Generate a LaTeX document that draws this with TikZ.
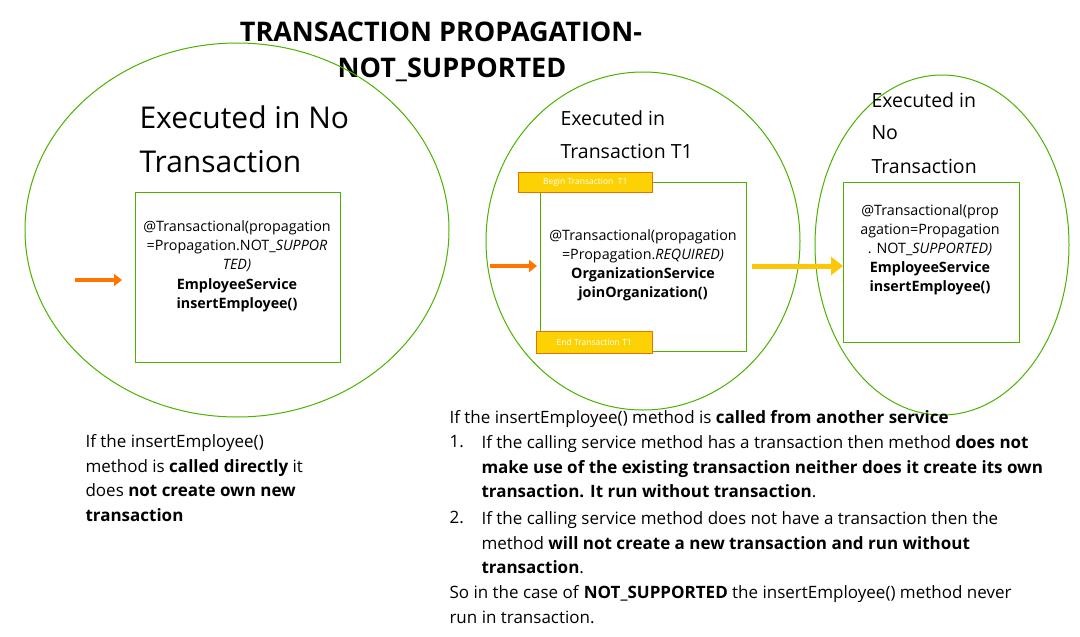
\documentclass[tikz,border=0pt]{standalone}
\usepackage{fontspec}
\setmainfont{Open Sans}
\tikzset{
 bx/.style={draw=green!50!black!60!lime, line width=1pt},
 tag/.style={draw=orange!90!black, fill=yellow!70!orange, text=white, font=\fontsize{8.5}{10}\selectfont, inner sep=2pt},
 oarr/.style={draw=orange!80!red!90!yellow, line width=3.5pt, -{Triangle[length=8pt,width=12pt]}},
 txt/.style={anchor=north west, align=left, font=\fontsize{17}{24.5}\selectfont},
 btxt/.style={align=center, font=\fontsize{14.3}{19}\selectfont},
}
\usetikzlibrary{arrows.meta,shapes.geometric}
\begin{document}
\begin{tikzpicture}[x=1pt,y=-1pt]
\useasboundingbox (0,0) rectangle (1080,637);
\fill[white] (0,0) rectangle (1080,637);
\node[font=\bfseries\fontsize{27}{30}\selectfont] (t1) at (441,32) {TRANSACTION PROPAGATION-};
\node[font=\bfseries\fontsize{27}{30}\selectfont] (t2) at (452,70) {NOT\_SUPPORTED};
% ellipses
\draw[green!50!black!60!lime, line width=1pt] (237,230) ellipse (212 and 187);
\draw[green!50!black!60!lime, line width=1pt] (643,241) ellipse (157 and 169);
\draw[green!50!black!60!lime, line width=1pt] (942,245) ellipse (127 and 170);
% headings
\node[anchor=west, font=\fontsize{30}{32}\selectfont] (h1a) at (136,117) {Executed in No};
\node[anchor=west, font=\fontsize{30}{32}\selectfont] (h1b) at (136,162) {Transaction};
\node[anchor=west, font=\fontsize{19.5}{24}\selectfont] (h2a) at (557,118) {Executed in};
\node[anchor=west, font=\fontsize{19.5}{24}\selectfont] (h2b) at (557,151) {Transaction T1};
\node[anchor=west, font=\fontsize{19.5}{24}\selectfont] (h3a) at (868,100) {Executed in};
\node[anchor=west, font=\fontsize{19.5}{24}\selectfont] (h3b) at (868,133) {No};
\node[anchor=west, font=\fontsize{19.5}{24}\selectfont] (h3c) at (868,166) {Transaction};
% boxes
\draw[bx] (135,192) rectangle (340,362);
\draw[bx] (540,182) rectangle (746,351);
\draw[bx] (843,182) rectangle (1019,342);
\node[btxt] (b1) at (237,266) {@Transactional(propagation\\=Propagation.NOT\_\textit{SUPPOR}\\\textit{TED)}\\[1pt]\textbf{EmployeeService}\\\textbf{insertEmployee()}};
\node[btxt] (b2) at (643,265) {@Transactional(propagation\\=Propagation.\textit{REQUIRED)}\\\textbf{OrganizationService}\\\textbf{joinOrganization()}};
\node[btxt] (b3) at (930,250) {@Transactional(prop\\agation=Propagation\\. NOT\_\textit{SUPPORTED)}\\\textbf{EmployeeService}\\\textbf{insertEmployee()}};
% tags
\node[tag, minimum width=134pt, minimum height=20pt, anchor=north west] (beg) at (518,172) {Begin Transaction \ T1};
\node[tag, minimum width=116pt, minimum height=22pt, anchor=north west] (end) at (536,331) {End Transaction T1};
% arrows
\coordinate (a1s) at (75,280); \coordinate (a1e) at (122,280);
\draw[oarr] (a1s) -- (a1e);
\coordinate (a2s) at (490,266); \coordinate (a2e) at (537,266);
\draw[oarr] (a2s) -- (a2e);
\coordinate (a3s) at (752,266); \coordinate (a3e) at (843,266);
\draw[draw=yellow!60!orange, line width=5pt, -{Triangle[length=12pt,width=18pt]}] (a3s) -- (a3e);
% bottom left text
\node[txt] (l1) at (82,431) {If the insertEmployee()\\method is \textbf{called directly} it\\does \textbf{not create own new}\\\textbf{transaction}};
% bottom right
\node[txt] (r0) at (446,407) {If the insertEmployee() method is \textbf{called from another service}};
\node[txt] (r1) at (446,432) {1.};
\node[txt] (r1t) at (478,432) {If the calling service method has a transaction then method \textbf{does not}\\\textbf{make use of the existing transaction neither does it create its own}\\\textbf{transaction. It run without transaction}.};
\node[txt] (r2) at (446,508) {2.};
\node[txt] (r2t) at (478,508) {If the calling service method does not have a transaction then the\\method \textbf{will not create a new transaction and run without}\\\textbf{transaction}.};
\node[txt] (r3) at (446,582) {So in the case of \textbf{NOT\_SUPPORTED} the insertEmployee() method never\\run in transaction.};
\end{tikzpicture}
\end{document}
